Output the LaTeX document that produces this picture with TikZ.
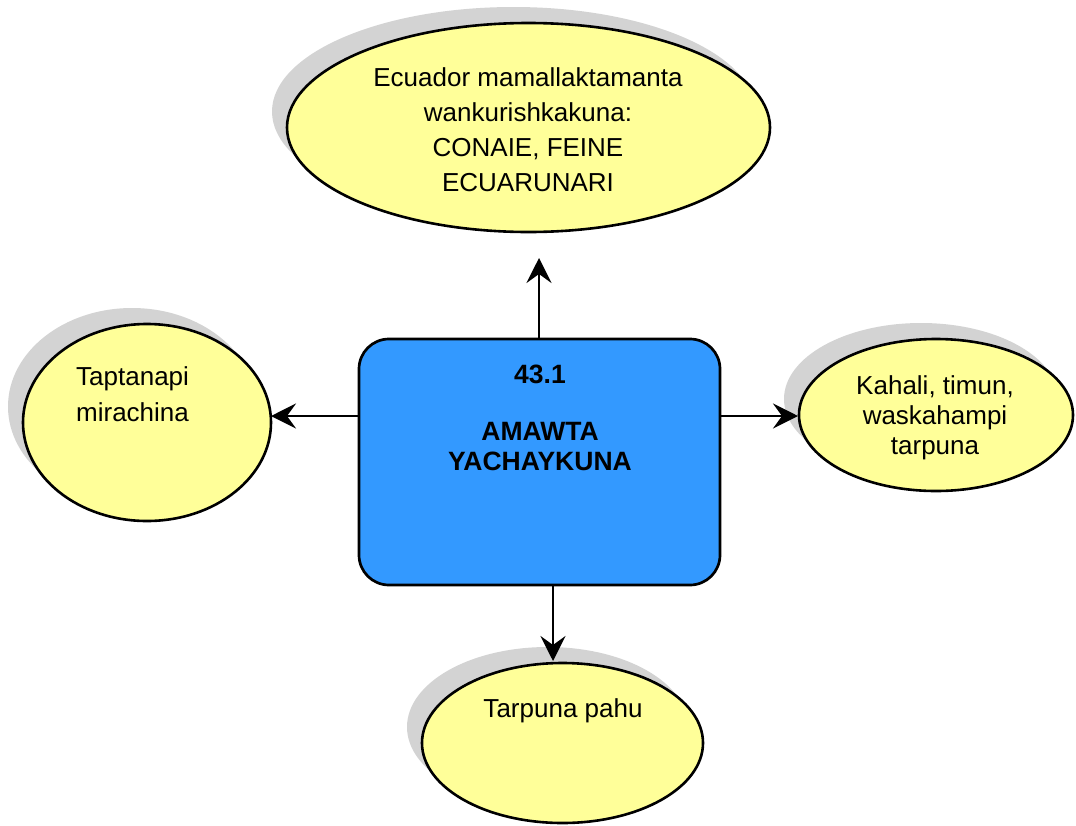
\documentclass[tikz,border=0pt]{standalone}
\usepackage{fontspec}
\setmainfont{Liberation Sans}
\usetikzlibrary{arrows.meta,shapes.geometric,shadows}
\definecolor{bubble}{HTML}{FFFF99}
\definecolor{hub}{HTML}{3399FF}
\definecolor{shade}{HTML}{D3D3D3}
\tikzset{
  bubble/.style={ellipse, draw=black, line width=2.6pt, fill=bubble, inner sep=0pt,
    general shadow={fill=shade, shadow xshift=-15pt, shadow yshift=16pt}},
  hubbox/.style={rectangle, rounded corners=30pt, draw=black, line width=2.7pt, fill=hub,
    minimum width=361pt, minimum height=246pt, inner sep=0pt},
  txt/.style={inner sep=0pt, font=\fontsize{26}{35}\selectfont},
  arr/.style={line width=2.6pt, -{Stealth[length=25pt, width=25pt, inset=9pt]}}
}
\begin{document}
\begin{tikzpicture}[x=1pt, y=-1pt]
\useasboundingbox (0,0) rectangle (1076,825);
% ellipses
\node[bubble, minimum width=483pt, minimum height=209pt] (top) at (528.5,127.5) {};
\node[bubble, minimum width=248pt, minimum height=197pt] (left) at (147,422.5) {};
\node[bubble, minimum width=274pt, minimum height=152pt] (right) at (936,415) {};
\node[bubble, minimum width=281pt, minimum height=160pt] (bottom) at (562.5,743) {};
% centre box
\node[hubbox] (hub) at (539.5,462) {};
% texts
\node[txt, align=center, anchor=north] (toptxt) at (528,67)
  {Ecuador mamallaktamanta\\wankurishkakuna:\\CONAIE, FEINE\\ECUARUNARI};
\node[txt, align=left, anchor=north west, font=\fontsize{26}{36}\selectfont] (lefttxt) at (76,366)
  {Taptanapi\\mirachina};
\node[txt, align=center, anchor=north, font=\fontsize{26}{30}\selectfont] (righttxt) at (935,375)
  {Kahali, timun,\\waskahampi\\tarpuna};
\node[txt, anchor=base] (bottomtxt) at (563,717) {Tarpuna pahu};
\node[txt, align=center, anchor=north, font=\fontsize{26.5}{30}\bfseries\selectfont] (hubtxt) at (540,365)
  {43.1\\[27pt]AMAWTA\\YACHAYKUNA};
% connectors
\coordinate (uptip) at (539,258);
\coordinate (lefttip) at (271,416);
\coordinate (righttip) at (798,416);
\coordinate (downtip) at (553,661);
\draw[arr] (hub.north -| uptip) -- (uptip);
\draw[arr] (hub.west |- lefttip) -- (lefttip);
\draw[arr] (hub.east |- righttip) -- (righttip);
\draw[arr] (hub.south -| downtip) -- (downtip);
\end{tikzpicture}
\end{document}
